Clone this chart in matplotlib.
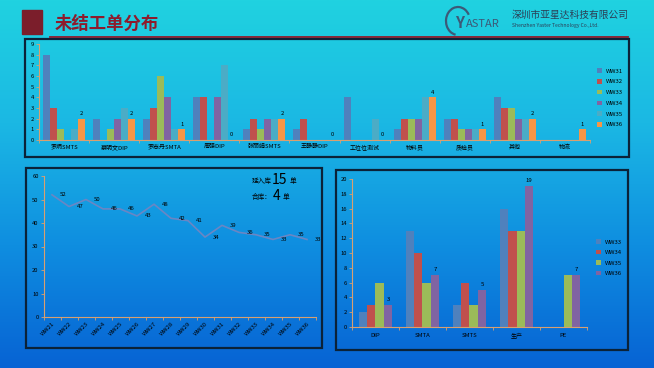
import numpy as np
import matplotlib
matplotlib.use("Agg")
import matplotlib.pyplot as plt
from matplotlib.patches import Rectangle, Arc
from matplotlib.colors import LinearSegmentedColormap

plt.rcParams['font.family'] = ['Noto Sans CJK SC', 'DejaVu Sans']

# ---------------- data ----------------
top_categories = ["罗炳SMTS", "蔡明文DIP", "罗志丹SMTA", "周强DIP", "张丽娟SMTS", "王静静DIP",
                  "工位位测试", "物料员", "质检员", "其他", "物流"]
top_series = ["WW31", "WW32", "WW33", "WW34", "WW35", "WW36"]
ww31 = [8, 2, 2, 4, 1, 1, 4, 1, 2, 4, 0]
ww32 = [3, 0, 3, 4, 2, 2, 0, 2, 2, 3, 0]
ww33 = [1, 1, 6, 0, 1, 0, 0, 2, 1, 3, 0]
ww34 = [0, 2, 4, 4, 2, 0, 0, 2, 1, 2, 0]
ww35 = [1, 3, 1, 7, 2, 0, 2, 4, 1, 2, 0]
ww36 = [2, 2, 1, 0, 2, 0, 0, 4, 1, 2, 1]
top_values = [ww31, ww32, ww33, ww34, ww35, ww36]

line_weeks = ["WW21", "WW22", "WW23", "WW24", "WW25", "WW26", "WW27", "WW28",
              "WW29", "WW30", "WW31", "WW32", "WW33", "WW34", "WW35", "WW36"]
line_values = [52, 47, 50, 46, 46, 43, 48, 42, 41, 34, 39, 36, 35, 33, 35, 33]

br_categories = ["DIP", "SMTA", "SMTS", "生产", "PE"]
br_series = ["WW33", "WW34", "WW35", "WW36"]
br_ww33 = [2, 13, 3, 16, 0]
br_ww34 = [3, 10, 6, 13, 0]
br_ww35 = [6, 6, 3, 13, 7]
br_ww36 = [3, 7, 5, 19, 7]
br_values = [br_ww33, br_ww34, br_ww35, br_ww36]

palette = ["#4F81BD", "#C0504D", "#9BBB59", "#8064A2", "#4BACC6", "#F79646"]

W, H = 654, 368
fig = plt.figure(figsize=(W / 100, H / 100), dpi=100)

# ---------------- background gradient ----------------
bg = fig.add_axes([0, 0, 1, 1], zorder=0)
cmap = LinearSegmentedColormap.from_list("bg", ["#20D2E0", "#1BB8E4", "#0F8EE0", "#0763D4"])
grad = np.linspace(0, 1, 256).reshape(-1, 1)
bg.imshow(grad, aspect="auto", cmap=cmap, extent=[0, W, H, 0])
bg.set_xlim(0, W)
bg.set_ylim(H, 0)
bg.axis("off")

# title block
bg.add_patch(Rectangle((22, 10), 20, 24, color="#7B1E2B"))
bg.text(55, 24, "未结工单分布", color="#8E1B2C", fontsize=12.5, fontweight="bold", va="center", ha="left")
bg.plot([50, 628], [36.5, 36.5], color="#8E1B2C", lw=1.3)

# logo
bg.add_patch(Arc((458, 21), 24, 28, theta1=100, theta2=330, color="#3C5A78", lw=1.6))
bg.text(455, 23, "Y", color="#3C5A78", fontsize=11, fontweight="bold", va="center", ha="left")
bg.text(466, 24, "ASTAR", color="#3C5A78", fontsize=8, va="center", ha="left")
bg.text(512, 15, "深圳市亚星达科技有限公司", color="#2C3E55", fontsize=7, va="center", ha="left")
bg.text(512, 26, "Shenzhen Yaster Technology Co.,Ltd.", color="#2C3E55", fontsize=3.6, va="center", ha="left")

# panel borders
for (x0, y0, x1, y1) in [(25, 39, 629, 157), (26, 168, 322, 348), (336, 170, 628, 350)]:
    bg.add_patch(Rectangle((x0, y0), x1 - x0, y1 - y0, fill=False, ec="#0B2238", lw=1.6))


def fig_axes(x0, y0, x1, y1):
    return fig.add_axes([x0 / W, 1 - y1 / H, (x1 - x0) / W, (y1 - y0) / H], zorder=2)


axis_color = "#D9A070"
tick_fs = 4.2


def style_axes(ax):
    ax.set_facecolor("none")
    for s in ["top", "right"]:
        ax.spines[s].set_visible(False)
    for s in ["left", "bottom"]:
        ax.spines[s].set_color(axis_color)
        ax.spines[s].set_linewidth(0.8)
    ax.tick_params(colors=axis_color, labelcolor="black", labelsize=tick_fs, length=2, width=0.6, pad=1.5)


# ---------------- top grouped bar chart ----------------
ax1 = fig_axes(39, 44, 590, 140)
style_axes(ax1)
n = len(top_series)
bw = 0.14
x = np.arange(len(top_categories))
for i, (name, vals) in enumerate(zip(top_series, top_values)):
    pos = x + (i - (n - 1) / 2) * bw
    ax1.bar(pos, vals, bw, color=palette[i], label=name)
last_pos = x + ((n - 1) - (n - 1) / 2) * bw
for px, v in zip(last_pos, ww36):
    ax1.text(px, v + 0.25, str(v), ha="center", va="bottom", fontsize=4.2, color="black")
ax1.set_xlim(-0.5, len(top_categories) - 0.5)
ax1.set_ylim(0, 9)
ax1.set_yticks(range(0, 10))
ax1.set_xticks(x)
ax1.set_xticklabels(top_categories, fontsize=4.3)
ax1.set_xticks(np.arange(-0.5, len(top_categories), 1), minor=True)
ax1.tick_params(axis="x", which="major", length=0, pad=3)
ax1.tick_params(axis="x", which="minor", length=2, color=axis_color)
ax1.legend(loc="upper left", bbox_to_anchor=((595 - 39) / 551, (140 - 66) / 96),
           fontsize=4.3, frameon=False, handlelength=0.8, handleheight=0.8,
           labelspacing=0.9, handletextpad=0.6, borderaxespad=0)

# ---------------- bottom-left line chart ----------------
ax2 = fig_axes(43.5, 176, 315.5, 317)
style_axes(ax2)
xl = np.arange(len(line_weeks))
ax2.plot(xl, line_values, color="#6A86C4", lw=1.2)
for px, v in zip(xl, line_values):
    ax2.text(px + 0.45, v, str(v), ha="left", va="center", fontsize=4.3, color="black")
ax2.set_xlim(-0.5, len(line_weeks) - 0.5)
ax2.set_ylim(0, 60)
ax2.set_yticks(range(0, 61, 10))
ax2.set_xticks(xl)
ax2.set_xticklabels(line_weeks, rotation=45, ha="right", rotation_mode="anchor", fontsize=4.3)
ax2.set_xticks(np.arange(-0.5, len(line_weeks), 1), minor=True)
ax2.tick_params(axis="x", which="major", length=0, pad=3)
ax2.tick_params(axis="x", which="minor", length=2, color=axis_color)

bg.text(252, 181, "延入库", fontsize=4.8, va="center", ha="left", color="black")
bg.text(272, 180, "15", fontsize=10, va="center", ha="left", color="black")
bg.text(290, 181, "单", fontsize=4.8, va="center", ha="left", color="black")
bg.text(252, 197, "合库：", fontsize=4.8, va="center", ha="left", color="black")
bg.text(273, 196, "4", fontsize=10, va="center", ha="left", color="black")
bg.text(283, 197, "单", fontsize=4.8, va="center", ha="left", color="black")

# ---------------- bottom-right grouped bar chart ----------------
ax3 = fig_axes(352, 179, 587, 327)
style_axes(ax3)
m = len(br_series)
bw3 = 0.18
x3 = np.arange(len(br_categories))
for i, (name, vals) in enumerate(zip(br_series, br_values)):
    pos = x3 + (i - (m - 1) / 2) * bw3
    ax3.bar(pos, vals, bw3, color=palette[i], label=name)
last3 = x3 + ((m - 1) - (m - 1) / 2) * bw3
for px, v in zip(last3, br_ww36):
    ax3.text(px, v + 0.4, str(v), ha="center", va="bottom", fontsize=4.3, color="black")
ax3.set_xlim(-0.5, len(br_categories) - 0.5)
ax3.set_ylim(0, 20)
ax3.set_yticks(range(0, 21, 2))
ax3.set_xticks(x3)
ax3.set_xticklabels(br_categories, fontsize=4.3)
ax3.set_xticks(np.arange(-0.5, len(br_categories), 1), minor=True)
ax3.tick_params(axis="x", which="major", length=0, pad=4)
ax3.tick_params(axis="x", which="minor", length=2, color=axis_color)
ax3.legend(loc="upper left", bbox_to_anchor=((594 - 352) / 235, (327 - 237) / 148),
           fontsize=4.3, frameon=False, handlelength=0.8, handleheight=0.8,
           labelspacing=0.85, handletextpad=0.6, borderaxespad=0)

fig.savefig("out.png", dpi=100)
